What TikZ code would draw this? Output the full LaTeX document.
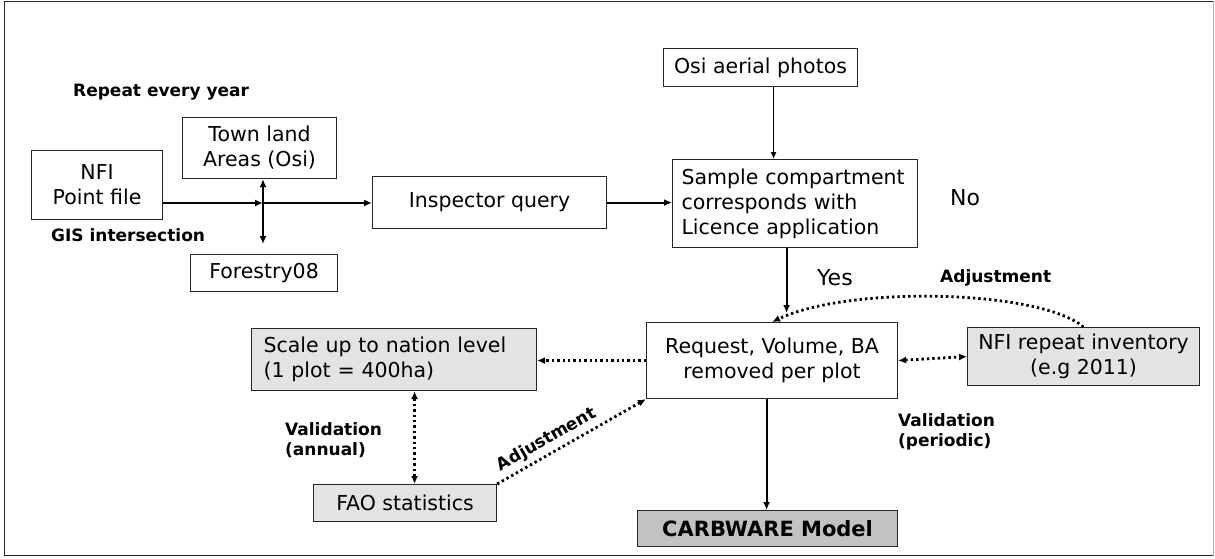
\documentclass[tikz,border=0pt]{standalone}
\usepackage{fontspec}
\setmainfont{DejaVu Sans}
\usetikzlibrary{arrows.meta,calc}
\hyphenpenalty=10000
\exhyphenpenalty=10000
\tikzset{
  box/.style={draw=black!85, line width=1.1pt, anchor=north west, inner sep=0pt,
    font=\fontsize{20.5}{25}\selectfont, align=center},
  graybox/.style={box, fill=black!11},
  lbl/.style={font=\bfseries\fontsize{17}{20.5}\selectfont, align=left, inner sep=0pt},
  plain/.style={font=\fontsize{22}{26}\selectfont, inner sep=0pt},
  tip/.tip={Latex[length=8pt,width=7pt]},
  flow/.style={line width=2pt, -tip},
  flowboth/.style={line width=2pt, tip-tip},
  thinflow/.style={line width=1.1pt, -{Latex[length=7pt,width=6pt]}},
  link/.style={line width=2.8pt, dash pattern=on 2.4pt off 3pt, -tip},
  linkboth/.style={link, tip-tip},
}
\begin{document}
\begin{tikzpicture}[x=1pt,y=-1pt]
\useasboundingbox (0,0) rectangle (1215,559);

% frame
\draw[line width=1.5pt, black!85] (1213,555.5) -- (4.5,555.5) -- (4.5,1.5) -- (1213,1.5);
\draw[line width=0.8pt, black!30] (1213,1.5) -- (1213,555.5);

% boxes
\node[box, minimum width=131pt, minimum height=69pt] (nfi) at (31,150) {NFI\\Point file};
\node[box, minimum width=154pt, minimum height=61pt] (town) at (182,117) {Town land\\Areas (Osi)};
\node[box, minimum width=147pt, minimum height=37pt] (forestry) at (190,254) {Forestry08};
\node[box, minimum width=234pt, minimum height=52pt] (insp) at (372,176) {Inspector query};
\node[box, minimum width=194pt, minimum height=38pt] (osi) at (663,48) {Osi aerial photos};
\node[box, minimum width=245pt, minimum height=88pt, text width=227pt, align=left] (sample) at (672,159)
  {Sample compartment\\corresponds with\\Licence application};
\node[box, minimum width=251pt, minimum height=76pt] (req) at (646,322) {Request, Volume, BA\\removed per plot};
\node[graybox, minimum width=232pt, minimum height=58pt] (rep) at (967,327) {NFI repeat inventory\\(e.g 2011)};
\node[graybox, minimum width=285pt, minimum height=62pt, text width=261pt, align=left] (scale) at (251,328)
  {Scale up to nation level\\(1 plot = 400ha)};
\node[graybox, minimum width=183pt, minimum height=37pt] (fao) at (313,484) {FAO statistics};
\node[box, fill=black!24, minimum width=260pt, minimum height=36pt,
  font=\bfseries\fontsize{21}{25}\selectfont] (carb) at (637,510) {CARBWARE Model};

% labels
\node[lbl, anchor=west] (repeat) at (73,92) {Repeat every year};
\node[lbl, anchor=west] (gis) at (51,235) {GIS intersection};
\node[plain, anchor=west] (no) at (950,198) {No};
\node[plain, anchor=west] (yes) at (817,278) {Yes};
\node[lbl, anchor=west] (adjtop) at (940,278) {Adjustment};
\node[lbl, anchor=north west] (valp) at (898,413) {Validation\\(periodic)};
\node[lbl, anchor=north west] (vala) at (285,422) {Validation\\(annual)};

% GIS intersection junction
\coordinate (cross) at (263,203);
\draw[flow] (nfi.east |- cross) -- (cross);
\draw[flow] (cross) -- (insp.west |- cross);
\draw[flowboth, shorten >=10pt] (town.south -| cross) -- (forestry.north -| cross);

% main flow
\draw[thinflow] ([xshift=13pt]osi.south) -- ([xshift=13pt]osi.south |- sample.north);
\draw[flow] (insp.east) -- (sample.west |- insp.east);
\draw[flow, shorten >=9pt] ([xshift=-8.5pt]sample.south) -- ([xshift=-8.5pt]sample.south |- req.north);
\draw[flow] ([xshift=-5.5pt]req.south) -- ([xshift=-5.5pt]req.south |- carb.north);

% feedback and validation links
\draw[link] (rep.north) .. controls (1040,290) and (850,285) .. (req.north);
\draw[link] (req.west) -- (req.west -| scale.east);
\draw[linkboth] (req.east) -- (rep.west);
\draw[linkboth] ([xshift=20.5pt]scale.south) -- ([xshift=20.5pt]scale.south |- fao.north);
\draw[link] (fao.north east) -- node[lbl, sloped, pos=0.38, above=4pt] (adjlow) {Adjustment} (req.south west);
\end{tikzpicture}
\end{document}
